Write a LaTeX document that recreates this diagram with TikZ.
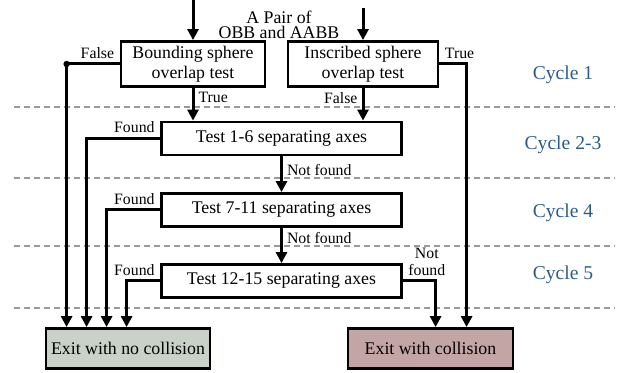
\documentclass[tikz,border=0pt]{standalone}
\usepackage{fontspec}
\setmainfont{Liberation Serif}
\usetikzlibrary{arrows.meta}
\definecolor{cyctext}{HTML}{2E5B8C}
\definecolor{nofill}{HTML}{C9D1C9}
\definecolor{colfill}{HTML}{C4A5A5}
\definecolor{sepgray}{HTML}{9A9A9A}

\begin{document}
\begin{tikzpicture}[x=0.5pt,y=-0.5pt,
  box/.style={draw,line width=1.4pt,align=center,inner sep=0pt,
    font=\fontsize{8.9}{10}\selectfont},
  flow/.style={line width=1.5pt,-{Triangle[length=5.5pt,width=5.5pt]}},
  lbl/.style={font=\fontsize{7.9}{8.5}\selectfont,inner sep=2pt,align=center}]
  \useasboundingbox (0,0) rectangle (633,373);
  % separators
  \foreach \y in {107,178,246,308}
    {\draw[sepgray,line width=1.2pt,dash pattern=on 3pt off 2pt] (14,\y) -- (615,\y);}
  % cycles
  \foreach \y/\lab [count=\i] in {75/1,145/2-3,213/4,275/5}
    {\node[cyctext,font=\fontsize{9.8}{11}\selectfont] (cyc\i) at (563,\y) {Cycle \lab};}
  % boxes
  \node[box,anchor=north,draw=none,font=\fontsize{8.9}{7.4}\selectfont] (hdr) at (279,10)
    {A Pair of\\OBB and AABB};
  \node[box,minimum width=72pt,minimum height=22.5pt] (bsp) at (193,64) {Bounding sphere\\overlap test};
  \node[box,minimum width=75pt,minimum height=22.5pt] (isp) at (363,64) {Inscribed sphere\\overlap test};
  \node[box,minimum width=120pt,minimum height=16.5pt] (t1) at (281.5,138.5) {Test 1-6 separating axes};
  \node[box,minimum width=120pt,minimum height=16.5pt] (t2) at (281.5,210) {Test 7-11 separating axes};
  \node[box,minimum width=120pt,minimum height=16.5pt] (t3) at (281.5,281) {Test 12-15 separating axes};
  \node[box,fill=nofill,minimum width=82pt,minimum height=20pt] (exitn) at (128,348.5) {Exit with no collision};
  \node[box,fill=colfill,minimum width=82.5pt,minimum height=20pt] (exitc) at (430.5,348.5) {Exit with collision};
  % inputs
  \coordinate (inl) at (193,0);
  \coordinate (inr) at (363,8);
  \draw[flow] (inl) -- (bsp.north);
  \draw[flow] (inr) -- (isp.north);
  % cycle 1
  \draw[flow] (bsp.south) -- node[lbl,right,pos=0.3] {True} (bsp.south |- t1.north);
  \draw[flow] (isp.south) -- node[lbl,left,pos=0.3] {False} (isp.south |- t1.north);
  \coordinate (en1) at ([xshift=11pt]exitn.north west);
  \coordinate (en2) at ([xshift=21pt]exitn.north west);
  \coordinate (en3) at ([xshift=31pt]exitn.north west);
  \coordinate (en4) at ([xshift=41pt]exitn.north west);
  \coordinate (ec1) at ([xshift=44.5pt]exitc.north west);
  \coordinate (ec2) at ([xshift=60pt]exitc.north west);
  \draw[flow] (bsp.west) node[lbl,above left] {False} -| (en1);
  \fill (en1 |- bsp.west) circle (1.6pt);
  \draw[flow] (isp.east) node[lbl,above right] {True} -| (ec2);
  % cycles 2-5
  \draw[flow] (t1.west) node[lbl,above left] {Found} -| (en2);
  \draw[flow] (t1) -- node[lbl,right,pos=0.37] {Not found} (t2);
  \draw[flow] (t2.west) node[lbl,above left] {Found} -| (en3);
  \draw[flow] (t2) -- node[lbl,right,pos=0.3] {Not found} (t3);
  \draw[flow] (t3.west) node[lbl,above left] {Found} -| (en4);
  \draw[flow] (t3.east) node[lbl,above right] {Not\\found} -| (ec1);
\end{tikzpicture}
\end{document}
